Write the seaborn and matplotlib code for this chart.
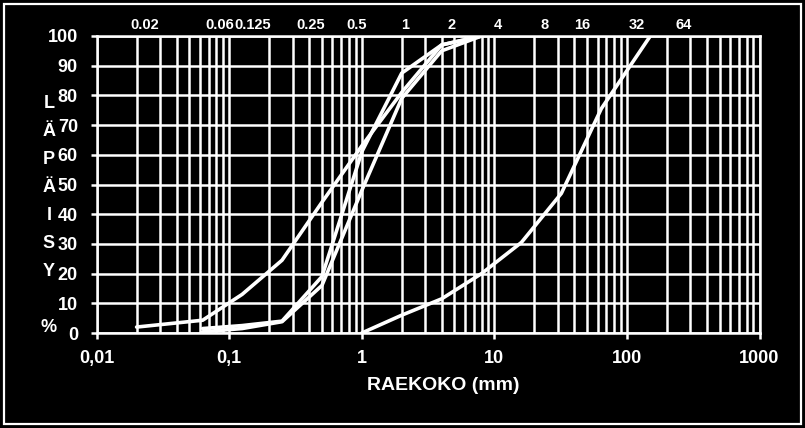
import matplotlib
matplotlib.use("Agg")
import matplotlib.pyplot as plt
import numpy as np
import pandas as pd
import seaborn as sns
from matplotlib.patches import Rectangle
from matplotlib.ticker import FixedLocator, FixedFormatter, NullFormatter

# ---- data ----
sizes_a = [0.02, 0.063, 0.125, 0.25, 0.5, 1, 2, 4, 8]
pass_a = [2, 4.3, 13, 24.5, 44, 63, 81, 97, 100]
sizes_b = [0.063, 0.125, 0.25, 0.5, 1, 2, 4, 8]
pass_b = [1.5, 2.5, 4, 19, 61, 87.5, 97, 100]
sizes_c = [0.063, 0.125, 0.25, 0.5, 1, 2, 4, 8]
pass_c = [0.4, 1.5, 3.8, 16, 48, 79, 95, 100]
sizes_d = [1, 2, 4, 8, 16, 32, 64, 150]
pass_d = [0, 6, 11.5, 20, 30.5, 47, 75.5, 100]

x_ticks = [0.01, 0.1, 1, 10, 100, 1000]
x_tick_labels = ["0,01", "0,1", "1", "10", "100", "1000"]
y_ticks = [0, 10, 20, 30, 40, 50, 60, 70, 80, 90, 100]
top_labels = ["0.02", "0.06", "0.125", "0.25", "0.5", "1", "2", "4", "8", "16", "32", "64"]
top_label_px = [145, 220, 253, 311, 357, 405, 452, 498, 545, 582, 637, 684]
x_title = "RAEKOKO (mm)"
y_title = "LÄPÄISY %"

frames = []
for name, xs, ys in [("A", sizes_a, pass_a), ("B", sizes_b, pass_b),
                     ("C", sizes_c, pass_c), ("D", sizes_d, pass_d)]:
    frames.append(pd.DataFrame({"size": xs, "passing": ys, "series": name}))
df = pd.concat(frames, ignore_index=True)

sns.set_theme(style="dark")
plt.rcParams["font.family"] = ["Liberation Sans", "DejaVu Sans"]
plt.rcParams["font.weight"] = "bold"

W, H = 805, 428
fig = plt.figure(figsize=(W / 100, H / 100), dpi=100, facecolor="black")
left, right, top, bottom = 96.7, 759.5, 36, 333
ax = fig.add_axes([left / W, 1 - bottom / H, (right - left) / W, (bottom - top) / H])
ax.set_facecolor("black")

ax.set_xscale("log")
ax.set_xlim(0.01, 1000)
ax.set_ylim(0, 100)

# grid
ax.grid(True, which="major", axis="both", color="white", lw=1.8)
ax.grid(True, which="minor", axis="x", color="white", lw=1.8)
ax.set_axisbelow(True)

sns.lineplot(data=df, x="size", y="passing", hue="series", units="series",
             estimator=None, sort=False, palette={k: "white" for k in "ABCD"},
             lw=2.6, legend=False, ax=ax, zorder=3)

ax.xaxis.set_major_locator(FixedLocator(x_ticks))
ax.xaxis.set_major_formatter(FixedFormatter(x_tick_labels))
ax.xaxis.set_minor_locator(matplotlib.ticker.LogLocator(base=10, subs=np.arange(2, 10), numticks=20))
ax.xaxis.set_minor_formatter(NullFormatter())
ax.set_yticks(y_ticks)
ax.tick_params(axis="both", which="major", colors="white", labelcolor="white",
               labelsize=13, length=4.5, width=1.8, bottom=True, left=True)
ax.tick_params(axis="x", which="major", pad=8)
ax.tick_params(axis="y", which="major", pad=9)
ax.tick_params(axis="x", which="minor", length=0)
for lab in ax.get_xticklabels() + ax.get_yticklabels():
    lab.set_fontweight("bold")
for s in ax.spines.values():
    s.set_color("white")
    s.set_linewidth(1.8)

ax.set_xlabel("")
ax.set_ylabel("")
fig.text(443 / W, 1 - 385 / H, x_title, color="white", fontsize=14,
         fontweight="bold", ha="center", va="center")

# stacked vertical y title letters
for i, ch in enumerate(y_title):
    if ch.strip():
        fig.text(49 / W, 1 - (104 + i * 28) / H, ch, color="white", fontsize=13,
                 fontweight="bold", ha="center", va="center")

# sieve size labels above the plot
for lab, px in zip(top_labels, top_label_px):
    fig.text(px / W, 1 - 25 / H, lab, color="white", fontsize=10.5,
             fontweight="bold", ha="center", va="center")

# outer white frame
fig.patches.append(Rectangle((4 / W, 4 / H), (W - 8) / W, (H - 8) / H,
                             transform=fig.transFigure, fill=False,
                             edgecolor="white", lw=1.6))

fig.savefig("out.png", dpi=100, facecolor="black")
